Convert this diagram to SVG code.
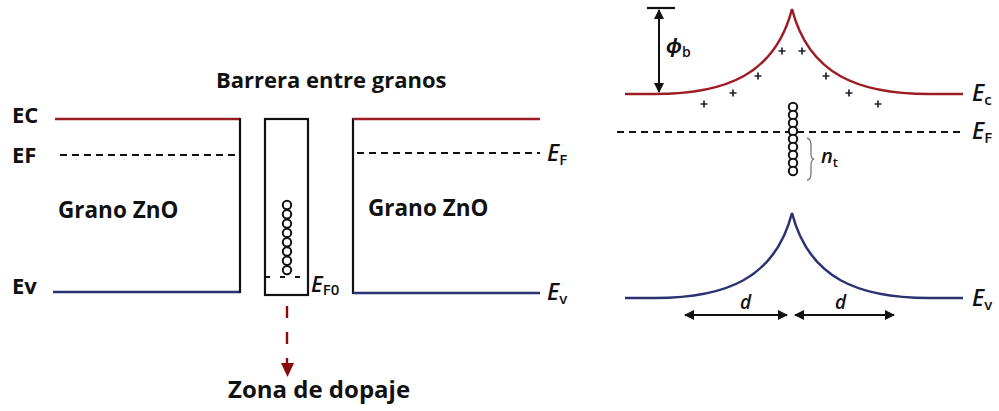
<svg xmlns="http://www.w3.org/2000/svg" width="999" height="411" viewBox="0 0 999 411">
<style>
.lbl{font-family:"Open Sans","Liberation Sans",sans-serif;font-weight:bold;fill:#111}
.ei{font-family:"Open Sans","Liberation Sans",sans-serif;font-style:italic;font-weight:600;fill:#111}
.red{stroke:#9b1c23;stroke-width:2.5;fill:none}
.blue{stroke:#2b3272;stroke-width:2.5;fill:none}
.blk{stroke:#111;stroke-width:2.2;fill:none}
.dash{stroke:#111;stroke-width:2.2;stroke-dasharray:7 5;fill:none}
.circ{stroke:#111;stroke-width:2;fill:#fff}
.plus{stroke:#223;stroke-width:1.7;fill:none}
</style>
<defs>
<marker id="ah" viewBox="0 0 10 10" refX="9" refY="5" markerWidth="5" markerHeight="5" orient="auto-start-reverse">
<path d="M0 0 L10 5 L0 10 z" fill="#111"/>
</marker>
<circle id="c" r="4.2" class="circ"/>
</defs>
<rect width="999" height="411" fill="#fff"/>

<g id="left-grain">
<text class="lbl" x="12" y="123" font-size="22">EC</text>
<text class="lbl" x="12" y="163" font-size="22">EF</text>
<text class="lbl" x="12" y="294" font-size="22">Ev</text>
<line class="red" x1="55" y1="119" x2="240" y2="119"/>
<line class="dash" x1="60" y1="155" x2="240" y2="155"/>
<line class="blue" x1="53" y1="292" x2="240" y2="292"/>
<line class="blk" x1="240" y1="118" x2="240" y2="293"/>
<text class="lbl" x="58" y="218" font-size="22.5">Grano ZnO</text>
</g>

<g id="barrier">
<text class="lbl" x="216" y="88" font-size="22">Barrera entre granos</text>
<rect class="blk" x="265" y="119" width="43" height="176"/>
<g>
<use href="#c" x="287" y="205"/><use href="#c" x="287" y="214.3"/><use href="#c" x="287" y="223.6"/><use href="#c" x="287" y="232.9"/>
<use href="#c" x="287" y="242.2"/><use href="#c" x="287" y="251.5"/><use href="#c" x="287" y="260.8"/><use href="#c" x="287" y="270.1"/>
</g>
<line x1="265" y1="277" x2="305" y2="277" stroke="#111" stroke-width="2" stroke-dasharray="5 10"/>
<text class="ei" x="311" y="292" font-size="22">E<tspan font-size="15" dy="3" font-style="normal">F0</tspan></text>
</g>

<g id="right-grain">
<line class="blk" x1="353" y1="118" x2="353" y2="294"/>
<line class="red" x1="353" y1="119" x2="540" y2="119"/>
<line class="dash" x1="357" y1="153" x2="540" y2="153"/>
<line class="blue" x1="353" y1="293" x2="540" y2="293"/>
<text class="lbl" x="368" y="216" font-size="22.5">Grano ZnO</text>
<text class="ei" x="547" y="161" font-size="23">E<tspan font-size="15" dy="4" font-style="normal">F</tspan></text>
<text class="ei" x="547" y="300" font-size="23">E<tspan font-size="15" dy="4" font-style="normal">v</tspan></text>
</g>

<g id="doping">
<text class="lbl" x="228" y="398" font-size="24">Zona de dopaje</text>
</g>

<g id="band-diagram">
<path class="red" d="M625 94 L655 94 C725 94 775 75 792 9 C809 75 859 94 929 94 L963 94"/>
<path class="blue" d="M625 298 L655 298 C725 298 775 279 792 213 C809 279 859 298 929 298 L963 298"/>
<line class="dash" x1="617" y1="132" x2="960" y2="132"/>
<g>
<use href="#c" x="793" y="107"/><use href="#c" x="793" y="115"/><use href="#c" x="793" y="123"/><use href="#c" x="793" y="131"/>
<use href="#c" x="793" y="139"/><use href="#c" x="793" y="147"/><use href="#c" x="793" y="155"/><use href="#c" x="793" y="163"/><use href="#c" x="793" y="171"/>
</g>
<path class="plus" d="M700.5 104h7M704 100.5v7M729.5 93h7M733 89.5v7M754.5 76h7M758 72.5v7M778.5 51h7M782 47.5v7M798.5 51h7M802 47.5v7M822.5 76h7M826 72.5v7M845.5 93h7M849 89.5v7M874.5 104h7M878 100.5v7"/>
<path d="M807 138 Q811 139 811 146 L811 154 Q811 159 814 159 Q811 160 811 165 L811 173 Q811 180 807 180" stroke="#777" stroke-width="1.3" fill="none"/>
<text class="ei" x="821" y="163" font-size="20">n<tspan font-size="13" dy="4" font-style="normal">t</tspan></text>
<line x1="647" y1="8" x2="675" y2="8" stroke="#111" stroke-width="2.2"/>
<line x1="659" y1="10" x2="659" y2="92" stroke="#111" stroke-width="2" marker-start="url(#ah)" marker-end="url(#ah)"/>
<text class="ei" x="666" y="53" font-size="21">ϕ<tspan font-size="14" dy="4" font-style="normal">b</tspan></text>
<line x1="685" y1="315" x2="787" y2="315" stroke="#111" stroke-width="2" marker-start="url(#ah)" marker-end="url(#ah)"/>
<line x1="795" y1="315" x2="894" y2="315" stroke="#111" stroke-width="2" marker-start="url(#ah)" marker-end="url(#ah)"/>
<text class="ei" x="740" y="309" font-size="19">d</text>
<text class="ei" x="835" y="309" font-size="19">d</text>
<text class="ei" x="972" y="101" font-size="23">E<tspan font-size="15" dy="4" font-style="normal">c</tspan></text>
<text class="ei" x="972" y="139" font-size="23">E<tspan font-size="15" dy="4" font-style="normal">F</tspan></text>
<text class="ei" x="972" y="306" font-size="23">E<tspan font-size="15" dy="4" font-style="normal">v</tspan></text>
</g>

<g id="connectors">
<line x1="287" y1="306" x2="287" y2="364" stroke="#8b0a0a" stroke-width="2.4" stroke-dasharray="12 14"/>
<path d="M281 363 L294 363 L287.5 377 z" fill="#8b0a0a"/>
</g>
</svg>
